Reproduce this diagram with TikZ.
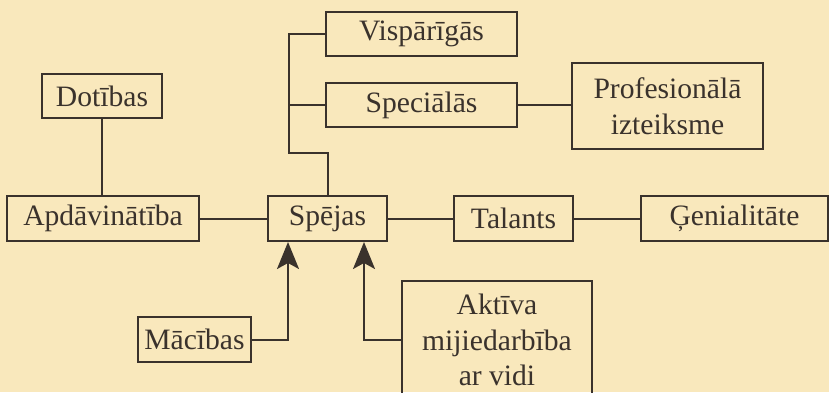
\documentclass[tikz,border=0pt]{standalone}
\usepackage{fontspec}
\setmainfont{Liberation Serif}
\usetikzlibrary{arrows.meta}
\definecolor{paper}{RGB}{249,232,188}
\definecolor{ink}{RGB}{58,50,44}

\tikzset{
  box/.style={draw=ink, text=ink, line width=1pt, inner sep=3pt,
    minimum height=22.5pt, align=center,
    font=\fontsize{14.8}{17.75}\selectfont},
  link/.style={draw=ink, line width=1pt},
  feed/.style={link, -{Stealth[length=13.5pt,width=11pt,inset=3pt]}}
}

\begin{document}
\begin{tikzpicture}[x=0.5pt,y=-0.5pt]
  \fill[paper] (0,0) rectangle (829,392);
  \useasboundingbox (0,0) rectangle (829,392);
  \clip (0,0) rectangle (829,392);
  % upper branch
  \node[box, minimum width=95.5pt, minimum height=22pt] (visp) at (421.5,34) {Vispārīgās};
  \node[box, minimum width=95.5pt, minimum height=22pt] (spec) at (421.5,105) {Speciālās};
  \node[box, minimum width=95.5pt, minimum height=43pt] (prof) at (667.5,106) {Profesionālā\\izteiksme};
  \node[box, minimum width=60pt, minimum height=22pt] (dot) at (102,96) {Dotības};
  % main row
  \node[box, minimum width=96pt] (apd) at (103,218.5) {Apdāvinātība};
  \node[box, minimum width=59.5pt] (spe) at (327.5,218.5) {Spējas};
  \node[box, minimum width=59.5pt] (tal) at (513.5,218.5) {Talants};
  \node[box, minimum width=93.5pt] (gen) at (734.5,218.5) {Ģenialitāte};
  % lower branch
  \node[box, minimum width=95pt, anchor=north, inner ysep=6.5pt] (akt) at (497,280) {Aktīva\\mijiedarbība\\ar vidi};
  \node[box, minimum width=55.5pt] (mac) at (194.5,339.5) {Mācības};

  \coordinate (br) at (289,153);
  \coordinate (spein1) at ([xshift=10.5pt]spe.south west);
  \coordinate (spein2) at ([xshift=-12pt]spe.south east);

  \draw[link] (dot.south) -- (dot.south |- apd.north);
  \draw[link] (apd) -- (spe);
  \draw[link] (spe) -- (tal);
  \draw[link] (tal) -- (gen);
  \draw[link] (visp.west) -| (br) -| (spe.north);
  \draw[link] (spec.west) -- (spec.west -| br);
  \draw[link] (spec.east) -- (spec.east -| prof.west);
  \draw[feed] (mac.east) -| (spein1);
  \draw[feed] (akt.west |- mac.east) -| (spein2);
\end{tikzpicture}
\end{document}
